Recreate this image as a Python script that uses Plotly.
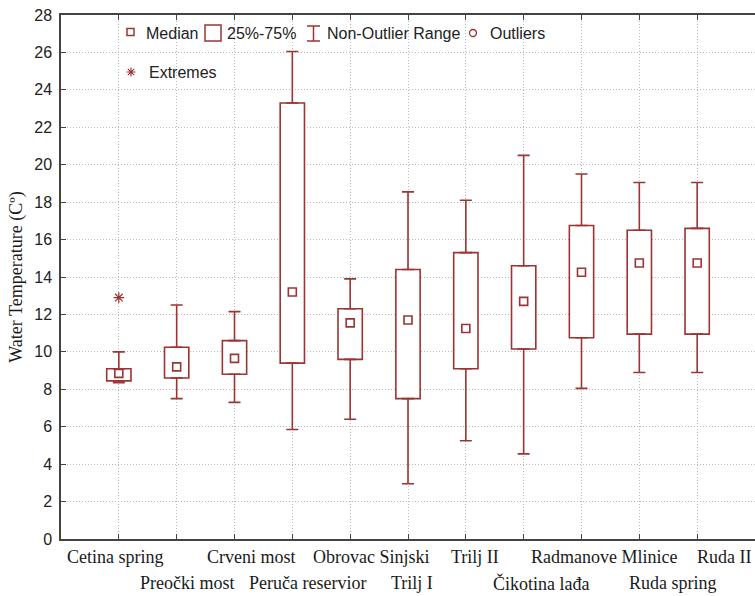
import plotly.graph_objects as go

# ---------------- data ----------------
sites = ["Cetina spring", "Preočki most", "Crveni most", "Peruča reservior",
         "Obrovac Sinjski", "Trilj I", "Trilj II", "Čikotina lađa",
         "Radmanove Mlinice", "Ruda spring", "Ruda II"]
median = [8.85, 9.2, 9.65, 13.2, 11.55, 11.7, 11.25, 12.7, 14.25, 14.75, 14.75]
q1 = [8.45, 8.6, 8.8, 9.4, 9.6, 7.5, 9.1, 10.15, 10.75, 10.95, 10.95]
q3 = [9.1, 10.25, 10.6, 23.3, 12.3, 14.4, 15.3, 14.6, 16.75, 16.5, 16.6]
whisk_min = [8.35, 7.5, 7.3, 5.85, 6.4, 2.95, 5.25, 4.55, 8.05, 8.9, 8.9]
whisk_max = [10.0, 12.5, 12.15, 26.05, 13.9, 18.55, 18.1, 20.5, 19.5, 19.05, 19.05]
extreme_site = ["Cetina spring"]
extreme_val = [12.9]
y_ticks = list(range(0, 29, 2))

# ---------------- style ----------------
RED = "#9c3434"
AXC = "#444444"
GRID = "#b8b8b8"
SERIF = "Liberation Serif, Times New Roman, serif"
SANS = "Liberation Sans, Arial, sans-serif"
label_xshift = [-3, 11, 17, 15, 21, 4, 9, 17, 22, 34, 27]

fig = go.Figure()

# boxes (25%-75%)
fig.add_trace(go.Bar(
    x=sites, y=[b - a for a, b in zip(q1, q3)], base=q1, width=0.42,
    marker=dict(color="white", line=dict(color=RED, width=1.6)),
    showlegend=False, hoverinfo="skip"))

# whiskers (non-outlier range)
fig.add_trace(go.Scatter(
    x=sites, y=q3, mode="markers",
    marker=dict(size=1, color="rgba(0,0,0,0)"),
    error_y=dict(type="data", symmetric=False,
                 array=[b - a for a, b in zip(q3, whisk_max)],
                 arrayminus=[0] * len(sites),
                 color=RED, thickness=1.6, width=6),
    showlegend=False, hoverinfo="skip"))
fig.add_trace(go.Scatter(
    x=sites, y=q1, mode="markers",
    marker=dict(size=1, color="rgba(0,0,0,0)"),
    error_y=dict(type="data", symmetric=False,
                 array=[0] * len(sites),
                 arrayminus=[a - b for a, b in zip(q1, whisk_min)],
                 color=RED, thickness=1.6, width=6),
    showlegend=False, hoverinfo="skip"))

# medians
fig.add_trace(go.Scatter(
    x=sites, y=median, mode="markers",
    marker=dict(symbol="square-open", size=8, color=RED, line=dict(width=1.6)),
    showlegend=False))

# extremes
fig.add_trace(go.Scatter(
    x=extreme_site, y=extreme_val, mode="markers",
    marker=dict(symbol="asterisk-open", size=9, color=RED, line=dict(width=1.2, color=RED)),
    showlegend=False))

# x tick labels, staggered in two rows
annotations = []
for i, s in enumerate(sites):
    annotations.append(dict(
        x=s, xref="x", y=0, yref="paper", yanchor="top", xanchor="center",
        text=s, showarrow=False, xshift=label_xshift[i],
        yshift=-6 if i % 2 == 0 else -32,
        font=dict(family=SERIF, size=18, color="#1a1a1a")))

# manual legend (pixel positions converted to paper coords)
PL, PW, PT, PH = 61, 694, 15, 524


def px(xp):
    return (xp - PL) / PW


def py(yp):
    return (PT + PH - yp) / PH


leg_font = dict(family=SANS, size=16, color="#222222")
for txt, xl, yc in [("Median", 144, 33), ("25%-75%", 225, 33),
                    ("Non-Outlier Range", 325, 33), ("Outliers", 488, 33),
                    ("Extremes", 147, 72)]:
    annotations.append(dict(x=px(xl), y=py(yc), xref="paper", yref="paper",
                            xanchor="left", yanchor="middle", text=txt,
                            showarrow=False, font=leg_font))

shapes = []
# median symbol
shapes.append(dict(type="rect", xref="paper", yref="paper",
                   xsizemode="pixel", ysizemode="pixel",
                   xanchor=px(130.5), yanchor=py(32), x0=-3.5, x1=3.5, y0=-3.5, y1=3.5,
                   line=dict(color=RED, width=1.5)))
# box symbol
shapes.append(dict(type="rect", xref="paper", yref="paper",
                   xsizemode="pixel", ysizemode="pixel",
                   xanchor=px(213), yanchor=py(33), x0=-8, x1=8, y0=-8, y1=8,
                   line=dict(color=RED, width=1.5)))
# whisker symbol
shapes.append(dict(type="path", xref="paper", yref="paper",
                   xsizemode="pixel", ysizemode="pixel",
                   xanchor=px(313.5), yanchor=py(33.5),
                   path="M -6.5 7.5 L 6.5 7.5 M 0 7.5 L 0 -7.5 M -6.5 -7.5 L 6.5 -7.5",
                   line=dict(color=RED, width=1.5)))
# outlier symbol
shapes.append(dict(type="circle", xref="paper", yref="paper",
                   xsizemode="pixel", ysizemode="pixel",
                   xanchor=px(473), yanchor=py(33), x0=-3.5, x1=3.5, y0=-3.5, y1=3.5,
                   line=dict(color=RED, width=1.3)))
# extreme symbol
shapes.append(dict(type="path", xref="paper", yref="paper",
                   xsizemode="pixel", ysizemode="pixel",
                   xanchor=px(131), yanchor=py(72),
                   path="M 0 -4.5 L 0 4.5 M -4.5 0 L 4.5 0 M -3.2 -3.2 L 3.2 3.2 M -3.2 3.2 L 3.2 -3.2",
                   line=dict(color=RED, width=1.1)))

fig.update_layout(
    width=755, height=596,
    margin=dict(l=61, r=0, t=15, b=57),
    paper_bgcolor="white", plot_bgcolor="white",
    showlegend=False,
    annotations=annotations, shapes=shapes,
    xaxis=dict(type="category", categoryorder="array", categoryarray=sites,
               range=[-1, 11], showticklabels=False,
               ticks="inside", ticklen=5, tickcolor=AXC, tickwidth=1.2,
               showline=True, linecolor=AXC, linewidth=1.5, mirror="ticks",
               showgrid=True, gridcolor=GRID, griddash="1px,2px", gridwidth=1,
               zeroline=False),
    yaxis=dict(range=[0, 28], tickvals=y_ticks,
               ticks="inside", ticklen=5, tickcolor=AXC, tickwidth=1.2,
               showline=True, linecolor=AXC, linewidth=1.5, mirror=False,
               showgrid=True, gridcolor=GRID, griddash="1px,2px", gridwidth=1,
               zeroline=False, ticklabelstandoff=4,
               tickfont=dict(family=SANS, size=16, color="#222222"),
               title=dict(text="Water Temperature (Cº)", standoff=7,
                          font=dict(family=SERIF, size=18, color="#1a1a1a"))),
    yaxis2=dict(range=[0, 28], tickvals=y_ticks, overlaying="y", side="right",
                anchor="x", ticks="inside", ticklen=5, tickcolor=AXC, tickwidth=1.2,
                showline=False, showticklabels=False, showgrid=False, zeroline=False),
)

fig.write_html("out.html",
               config={"displayModeBar": False},
               post_script="document.body.style.margin='0';"
                           "document.body.style.overflow='hidden';")
